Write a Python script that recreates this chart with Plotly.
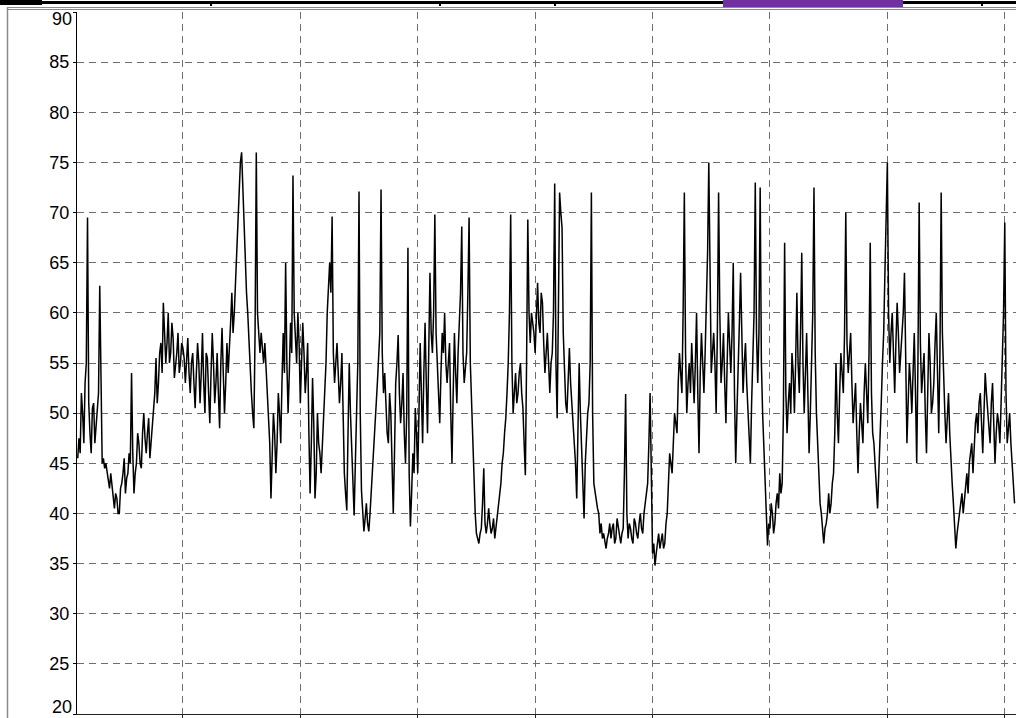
import numpy as np
import plotly.graph_objects as go

# ---- data: noisy level readings, each segment anchored at its first sample index ----
seg1_start = 10
seg1 = [45.5, 47.5, 46, 52, 50, 47, 53, 55, 69.5, 51,
        48, 46, 50.5, 51, 47, 48.5, 50, 52, 62.7, 53,
        45, 45.5, 44.5, 45, 44, 43, 42.5, 44, 43, 41.5,
        40.5, 42, 41.5, 40, 40, 42.5, 43, 44, 45.5, 42,
        43.5, 44, 46, 45, 54, 46, 42, 44, 45, 48,
        47, 45, 44.5, 48, 50, 47.5, 46, 48, 49.5, 45.5,
        47, 49, 50, 52, 55.5, 51, 53, 56, 57, 54,
        61, 58, 55, 57, 60, 55, 56, 59, 57.5, 53.5,
        54.5, 56, 58, 54, 55, 57, 56.5, 55.5]
seg2_start = 98
seg2 = [53, 55, 57.5, 54, 52, 55, 56, 53, 50.5, 54,
        57, 55, 51, 54, 58, 53, 50, 56, 55.5, 52,
        49, 54, 58, 55, 51, 53, 56, 52, 48.5, 55,
        58.5, 54, 50, 53, 57, 54, 56, 59, 62, 58,
        60, 63, 66, 70, 73, 75, 76, 72, 70, 66,
        62, 60, 57, 55, 52, 50, 48.5, 58, 76, 60,
        57.5, 56, 58, 56, 55, 57, 54.5, 52, 50, 47,
        41.5, 46, 50, 48, 44, 47, 52, 50, 47, 53,
        58, 54, 65, 55, 50, 54, 59, 56, 73.7, 60,
        57, 55, 60, 57]
seg3_start = 192
seg3 = [51, 55, 59, 56, 52, 54, 57, 48, 42, 47,
        53.5, 49, 41.5, 44, 50, 47, 46, 44, 47, 50,
        52, 55, 60, 63, 65, 62, 69.6, 56, 53, 55,
        57, 54, 51, 53, 56, 50, 44, 42, 40.3, 48,
        55, 50, 47, 43, 39.8, 45, 50, 55, 72.1, 50,
        42.3, 40, 38.2, 39.5, 41, 39, 38.2, 40, 42, 44,
        47, 49, 51, 53, 55.5, 58, 72.3, 56, 52, 54,
        51, 48, 47, 52, 50, 46, 40, 46, 53, 55,
        57.8, 52, 49, 51, 54, 48, 45, 50, 66.5, 44,
        38.7, 42, 46, 44, 50.5, 48]
seg4_start = 288
seg4 = [44, 50, 57, 52, 47, 54, 59, 53, 48, 56,
        64, 58, 56, 60, 69.8, 58, 55, 52, 49, 54,
        58, 56, 60, 55, 53, 55, 57, 50, 45, 52,
        58, 54, 51, 56, 60, 62, 68.6, 56, 53, 55,
        56, 62, 69.5, 55, 51, 46, 42, 40, 38, 37.5,
        37, 38, 38.5, 41, 44.5, 39, 38, 39, 40.5, 39,
        38, 38.5, 39.5, 37.5, 38.5, 40, 41, 42, 43, 45,
        46, 48, 49.5, 52, 55, 60, 69.8, 55, 50, 52,
        54, 51, 52, 54, 55, 52, 50.5, 47, 43.8, 55,
        69.3, 60, 57, 60, 59, 58]
seg5_start = 384
seg5 = [56, 60, 63, 59, 58, 62, 61, 57, 54, 56,
        58, 55, 52, 55, 56, 60, 72.9, 55, 49.5, 60,
        72, 70, 68.5, 58, 53, 51, 50, 54, 56.5, 53,
        51, 49, 47.8, 45, 41.5, 50, 55, 50, 47, 43,
        39.5, 45, 48, 50, 51, 55, 72, 50, 43, 42,
        41, 40.5, 40, 38, 39, 37.5, 38, 37, 36.5, 37.5,
        38, 39, 37.5, 38.5, 39, 37, 37.5, 39.5, 38.5, 37.5,
        37, 38, 38.5, 44, 51.9, 40, 37.5, 39, 38.5, 37.5,
        37, 39.5, 39, 38, 37.5, 39, 40, 38.5, 38, 40,
        41, 42, 43, 47, 52, 44]
seg6_start = 480
seg6 = [36, 37, 34.8, 36, 37, 38, 36.5, 37.5, 38, 36.5,
        37, 39, 40, 43, 46, 45, 44, 47, 50, 49,
        48, 53, 56, 54, 52, 60, 72, 56, 50, 53,
        55, 52, 57, 54, 51, 55, 60, 52, 46, 54,
        58, 55, 52, 56, 61, 66, 75, 60, 54, 56,
        58, 55, 50, 58, 72, 60, 53, 55, 58, 53,
        49, 55, 60, 57, 54, 58, 65, 52, 45, 50,
        56, 59, 64, 56, 52, 55, 57, 53, 50, 47,
        45, 51, 56, 60, 73, 58, 53, 58, 72.5, 55,
        50, 47, 44, 40, 36.8, 39]
seg7_start = 576
seg7 = [38.5, 41, 40, 38, 39, 41, 42, 40.5, 44, 42,
        43, 50, 67, 52, 48, 51, 53, 50, 56, 54,
        50, 55, 62, 55, 52, 58, 66, 55, 50, 54,
        58, 52, 46, 50, 55, 60, 72.5, 56, 50, 47,
        44, 41, 40, 38, 37, 38.5, 39, 40, 42, 40,
        41, 43, 44, 48, 55, 50, 47, 52, 56, 54,
        52, 58, 70, 57, 54, 56, 58, 53, 49, 51,
        53, 48, 44, 48, 51, 49, 47, 52, 55, 52,
        49, 56, 67, 52, 48, 47, 45, 42, 40.5, 44,
        47, 51, 55, 58, 64, 70]
seg8_start = 672
seg8 = [75, 60, 55, 58, 60, 56, 52, 57, 61, 58,
        54, 56, 58, 60, 64, 53, 47, 51, 55, 53,
        50, 54, 58, 52, 45, 55, 71, 57, 52, 54,
        56, 50, 46, 52, 58, 55, 50, 51, 53, 57,
        60, 54, 48, 56, 72, 58, 53, 50, 47, 50,
        52, 48, 45, 43, 41, 38, 36.5, 38, 39, 40.5,
        41, 42, 40, 41.5, 43, 44, 42, 45, 46, 47,
        44, 47, 49, 50, 48, 51, 52, 49, 46, 50,
        54, 52, 50, 48, 47, 51, 53, 49, 45, 48,
        50, 49, 47, 51, 55, 60, 69, 52, 47, 49,
        50, 47, 45, 43, 41]

segments = [(seg1_start, seg1), (seg2_start, seg2), (seg3_start, seg3), (seg4_start, seg4),
            (seg5_start, seg5), (seg6_start, seg6), (seg7_start, seg7), (seg8_start, seg8)]
samples = np.concatenate([np.arange(s, s + len(v)) for s, v in segments])
level = np.concatenate([np.array(v, dtype=float) for s, v in segments])

y_ticks = [20, 25, 30, 35, 40, 45, 50, 55, 60, 65, 70, 75, 80, 85, 90]
y_ticktext = [""] + [str(v) for v in y_ticks[1:-1]] + [""]

# ---- figure geometry ----
W, H = 1016, 718
L, R, T, B = 77, 0, 12, 4
PW, PH = W - L - R, H - T - B
SAMPLE_PX = 1.223
X0 = 9.4


def px(xp):
    return (xp - L) / PW


def py(yp):
    return 1 - (yp - T) / PH


fig = go.Figure()
fig.add_trace(go.Scatter(x=samples, y=level, mode="lines",
                         line=dict(color="black", width=1.5),
                         hoverinfo="skip", showlegend=False))

grid_dash = "7px,5px"
fig.update_layout(
    width=W, height=H,
    margin=dict(l=L, r=R, t=T, b=B, pad=0),
    paper_bgcolor="white", plot_bgcolor="white",
    showlegend=False,
    font=dict(family="Liberation Sans, Arial, sans-serif", size=18, color="black"),
    xaxis=dict(range=[X0, X0 + PW / SAMPLE_PX], tick0=0, dtick=96,
               showgrid=True, gridcolor="#6e6e6e", griddash=grid_dash, gridwidth=1,
               showline=True, linecolor="#222222", linewidth=1,
               ticks="outside", ticklen=3, tickcolor="#222222",
               showticklabels=False, zeroline=False),
    yaxis=dict(range=[20, 90], tickvals=y_ticks, ticktext=y_ticktext,
               showgrid=True, gridcolor="#6e6e6e", griddash=grid_dash, gridwidth=1,
               showline=True, linecolor="black", linewidth=1,
               ticks="outside", ticklen=3, tickcolor="black",
               zeroline=False, tickfont=dict(size=18)),
)

for val, shift in [(90, -7), (20, 7)]:
    fig.add_annotation(x=0, y=val, xref="paper", yref="y", text=str(val), showarrow=False,
                       xanchor="right", yanchor="middle", xshift=-3, yshift=shift,
                       font=dict(size=18, color="black"))

shapes = []
# top black strip
shapes.append(dict(type="rect", xref="paper", yref="paper", x0=px(0), x1=px(W),
                   y0=py(4), y1=py(1), fillcolor="black", line_width=0, layer="above"))
shapes.append(dict(type="rect", xref="paper", yref="paper", x0=px(0), x1=px(42),
                   y0=py(5), y1=py(0), fillcolor="black", line_width=0, layer="above"))
for tx in [211, 440, 555, 982]:
    shapes.append(dict(type="rect", xref="paper", yref="paper", x0=px(tx - 1), x1=px(tx + 1),
                       y0=py(6), y1=py(3), fillcolor="black", line_width=0, layer="above"))
shapes.append(dict(type="rect", xref="paper", yref="paper", x0=px(723), x1=px(903),
                   y0=py(7), y1=py(0), fillcolor="#7030a0", line_width=0, layer="above"))
# gray double frame line
for gy in [7.5, 9.5]:
    shapes.append(dict(type="line", xref="paper", yref="paper", x0=px(7), x1=px(W),
                       y0=py(gy), y1=py(gy), line=dict(color="#8a8a8a", width=1), layer="above"))
# left gray frame line
shapes.append(dict(type="line", xref="paper", yref="paper", x0=px(7.5), x1=px(7.5),
                   y0=py(7.5), y1=py(H), line=dict(color="#8a8a8a", width=1.5), layer="above"))
fig.update_layout(shapes=shapes)

fig.write_html("out.html", config={"displayModeBar": False},
               post_script="document.body.style.margin='0';document.body.style.padding='0';")
